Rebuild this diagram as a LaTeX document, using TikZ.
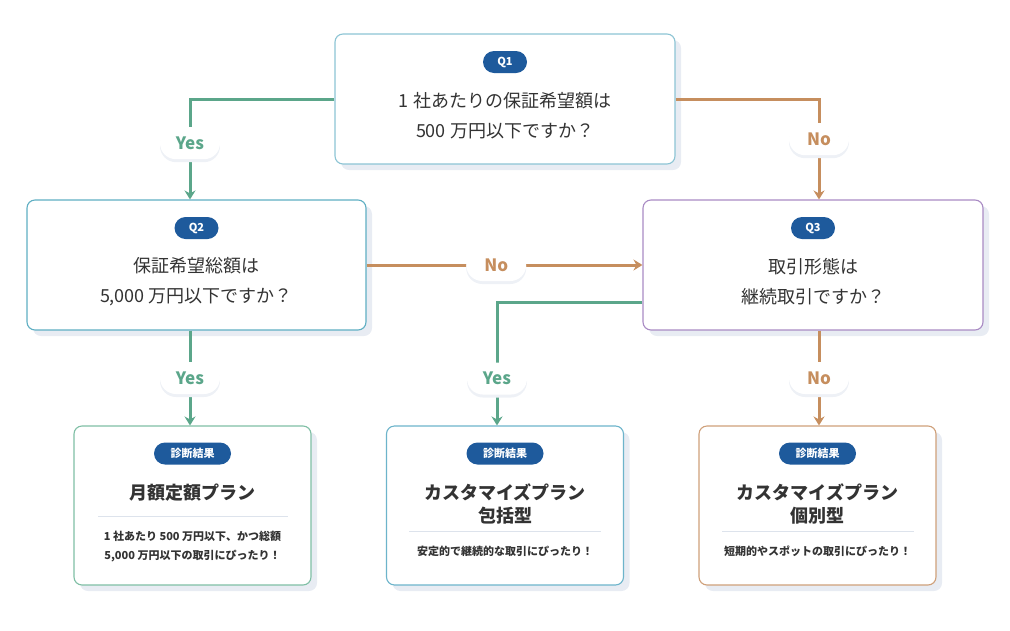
\documentclass[tikz,border=0pt]{standalone}
\usepackage{fontspec}
\setmainfont{Noto Sans CJK JP}
\usetikzlibrary{arrows.meta,shadows}
\definecolor{yescol}{HTML}{5BA68A}
\definecolor{nocol}{HTML}{C68E5E}
\definecolor{tagcol}{HTML}{1E5A9C}
\definecolor{txtcol}{HTML}{333333}
\definecolor{shadecol}{HTML}{E8ECF3}
\definecolor{pillshade}{HTML}{EEF1F6}
\definecolor{sepcol}{HTML}{DDE3EC}
\definecolor{qonecol}{HTML}{8CC4D4}
\definecolor{qtwocol}{HTML}{5FAFC3}
\definecolor{qthreecol}{HTML}{A98BC4}
\definecolor{rgreen}{HTML}{7FBFA5}
\definecolor{rblue}{HTML}{6DB4CB}
\definecolor{rbrown}{HTML}{CFA07A}
\tikzset{
  qbox/.style={draw=#1,line width=1.1pt,fill=white,rounded corners=8pt,minimum width=340pt,minimum height=130pt,
    drop shadow={shadow xshift=6pt,shadow yshift=-6pt,fill=shadecol,opacity=1}},
  rbox/.style={draw=#1,line width=1.1pt,fill=white,rounded corners=8pt,minimum width=237pt,minimum height=159pt,
    drop shadow={shadow xshift=6pt,shadow yshift=-6pt,fill=shadecol,opacity=1}},
  tag/.style={fill=tagcol,text=white,rounded corners=11pt,minimum height=22pt,inner sep=0pt,font=\fontsize{11}{12}\selectfont\bfseries},
  qtxt/.style={text=txtcol,align=center,font=\fontsize{18}{30}\selectfont},
  rttl/.style={text=txtcol,align=center,font=\fontsize{18}{23}\selectfont\bfseries},
  rtxt/.style={text=txtcol,align=center,font=\fontsize{11}{19}\selectfont\bfseries},
  sepline/.style={draw=sepcol,line width=0.8pt},
  link/.style={draw=#1,line width=3pt,-{Stealth[length=9pt,width=11pt,inset=3pt]}},
  pill/.style={fill=white,text=#1,rounded corners=16pt,minimum width=60pt,minimum height=32pt,inner sep=0pt,
    font=\fontsize{17}{18}\selectfont\bfseries,
    drop shadow={shadow xshift=0pt,shadow yshift=-3pt,fill=pillshade,opacity=1}},
}
\begin{document}
\begin{tikzpicture}[x=1pt,y=-1pt]
 \useasboundingbox (0,0) rectangle (1010,630);
 % ---- question boxes
 \node[qbox=qonecol] (q1) at (505,99) {};
 \node[qbox=qtwocol,minimum width=339pt] (q2) at (196.5,265) {};
 \node[qbox=qthreecol] (q3) at (813,265) {};
 % ---- result boxes
 \node[rbox=rgreen] (r1) at (192.5,505.5) {};
 \node[rbox=rblue] (r2) at (505,505.5) {};
 \node[rbox=rbrown] (r3) at (817.5,505.5) {};
 % ---- connectors
 \draw[link=yescol] (q1.west) -| ([xshift=-6.5pt]q2.north)
   node[pos=0.72,pill=yescol] (yes1) {Yes};
 \draw[link=nocol] (q1.east) -| ([xshift=6pt]q3.north)
   node[pos=0.70,pill=nocol] (no1) {No};
 \draw[link=nocol] (q2.east) -- (q3.west)
   node[pos=0.47,pill=nocol] (no2) {No};
 \draw[link=yescol] ([xshift=-6.5pt]q2.south) -- ([xshift=-2.5pt]r1.north)
   node[pos=0.5,pill=yescol] (yes2) {Yes};
 \draw[link=yescol] ([yshift=-37pt]q3.west) -| ([xshift=-8pt]r2.north)
   node[pos=0.81,pill=yescol] (yes3) {Yes};
 \draw[link=nocol] ([xshift=6pt]q3.south) -- ([xshift=1.5pt]r3.north)
   node[pos=0.5,pill=nocol] (no3) {No};
 % ---- Q1
 \node[tag,minimum width=44pt] (q1tag) at (505,62) {Q1};
 \node[qtxt] (q1txt) at (505,116) {1 社あたりの保証希望額は\\500 万円以下ですか？};
 % ---- Q2
 \node[tag,minimum width=44pt] (q2tag) at (196.5,228) {Q2};
 \node[qtxt] (q2txt) at (196.5,282) {保証希望総額は\\5,000 万円以下ですか？};
 % ---- Q3
 \node[tag,minimum width=44pt] (q3tag) at (813,228) {Q3};
 \node[qtxt] (q3txt) at (813,282) {取引形態は\\継続取引ですか？};
 % ---- result 1
 \node[tag,minimum width=77pt] (r1tag) at (192.5,453.5) {診断結果};
 \node[rttl] (r1ttl) at (192.5,493) {月額定額プラン};
 \draw[sepline] (98,516) -- (288,516);
 \node[rtxt] (r1txt) at (192.5,546.5) {1 社あたり 500 万円以下、かつ総額\\5,000 万円以下の取引にぴったり！};
 % ---- result 2
 \node[tag,minimum width=77pt] (r2tag) at (505,453.5) {診断結果};
 \node[rttl] (r2ttl) at (505,503.5) {カスタマイズプラン\\包括型};
 \draw[sepline] (409,531) -- (601,531);
 \node[rtxt] (r2txt) at (505,551) {安定的で継続的な取引にぴったり！};
 % ---- result 3
 \node[tag,minimum width=77pt] (r3tag) at (817.5,453.5) {診断結果};
 \node[rttl] (r3ttl) at (817.5,503.5) {カスタマイズプラン\\個別型};
 \draw[sepline] (722,531) -- (914,531);
 \node[rtxt] (r3txt) at (817.5,551) {短期的やスポットの取引にぴったり！};
\end{tikzpicture}
\end{document}
